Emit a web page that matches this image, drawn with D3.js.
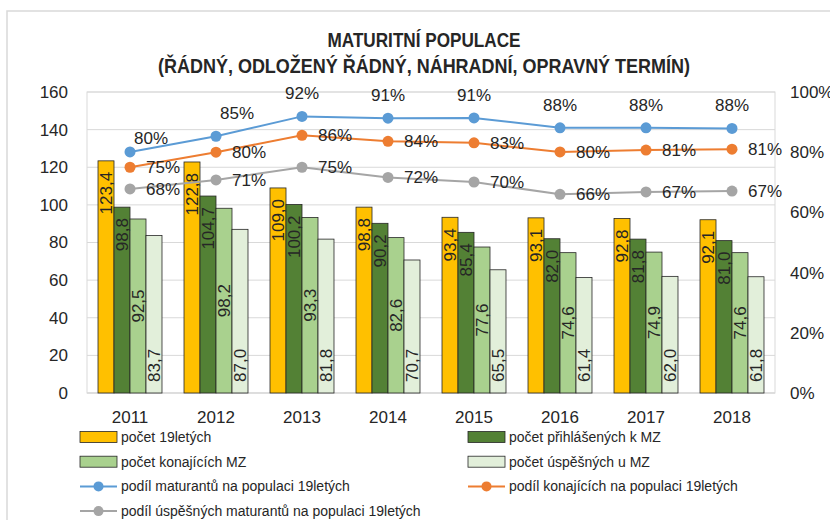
<!DOCTYPE html>
<html>
<head>
<meta charset="utf-8">
<script src="https://cdn.jsdelivr.net/npm/d3@7"></script>
<style>
  body { margin: 0; background: #fff; }
  svg text { font-family: "Liberation Sans", Arial, sans-serif; fill: #262626; }
</style>
</head>
<body>
<svg id="chart" width="830" height="520"></svg>
<script>
// DATA
const years = ["2011", "2012", "2013", "2014", "2015", "2016", "2017", "2018"];
const pocet19 = [123.4, 122.8, 109.0, 98.8, 93.4, 93.1, 92.8, 92.1];
const prihlasenych = [98.8, 104.7, 100.2, 90.2, 85.4, 82.0, 81.8, 81.0];
const konajicich = [92.5, 98.2, 93.3, 82.6, 77.6, 74.6, 74.9, 74.6];
const uspesnych = [83.7, 87.0, 81.8, 70.7, 65.5, 61.4, 62.0, 61.8];
const podilMaturantu = [80.1, 85.3, 91.9, 91.3, 91.4, 88.1, 88.1, 87.9];
const podilKonajicich = [75.0, 80.0, 85.6, 83.6, 83.1, 80.1, 80.7, 81.0];
const podilUspesnych = [67.8, 70.8, 75.0, 71.6, 70.1, 66.0, 66.8, 67.1];
const leftTicks = [0, 20, 40, 60, 80, 100, 120, 140, 160];
const rightTicks = [0, 0.2, 0.4, 0.6, 0.8, 1.0];

const barSeries = [
  { name: "počet 19letých", values: pocet19, color: "#FFC000", pos: "end" },
  { name: "počet přihlášených k MZ", values: prihlasenych, color: "#538135", pos: "end" },
  { name: "počet konajících MZ", values: konajicich, color: "#A9D18E", pos: "center" },
  { name: "počet úspěšných u MZ", values: uspesnych, color: "#E2EFDA", pos: "base" }
];
const lineSeries = [
  { name: "podíl maturantů na populaci 19letých", values: podilMaturantu, color: "#5B9BD5", pos: "above" },
  { name: "podíl konajících na populaci 19letých", values: podilKonajicich, color: "#ED7D31", pos: "right" },
  { name: "podíl úspěšných maturantů na populaci 19letých", values: podilUspesnych, color: "#A5A5A5", pos: "right" }
];

const svg = d3.select("#chart");
const plotL = 87, plotR = 775, plotT = 92, plotB = 393;
const fmt = d3.format(".1f");
const comma = v => fmt(v).replace(".", ",");

svg.append("rect").attr("width", 830).attr("height", 520).attr("fill", "#fff");
// outer chart frame
svg.append("rect")
  .attr("x", 7).attr("y", 11).attr("width", 900).attr("height", 600)
  .attr("fill", "none").attr("stroke", "#d9d9d9").attr("stroke-width", 1.5);

const x0 = d3.scaleBand().domain(years).range([plotL, plotR])
  .paddingInner(0.256).paddingOuter(0.128);
const x1 = d3.scaleBand().domain(d3.range(barSeries.length)).range([0, x0.bandwidth()]);
const y = d3.scaleLinear().domain([0, 160]).range([plotB, plotT]);
const yR = d3.scaleLinear().domain([0, 1]).range([plotB, plotT]);

// grid
svg.append("g").selectAll("line").data(leftTicks).join("line")
  .attr("x1", plotL).attr("x2", plotR)
  .attr("y1", d => y(d)).attr("y2", d => y(d))
  .attr("stroke", "#d9d9d9").attr("stroke-width", 1);
svg.append("rect")
  .attr("x", plotL).attr("y", plotT).attr("width", plotR - plotL).attr("height", plotB - plotT)
  .attr("fill", "none").attr("stroke", "#d9d9d9");

// axes
const yAxis = svg.append("g").attr("transform", `translate(${plotL},0)`)
  .call(d3.axisLeft(y).tickValues(leftTicks).tickSize(0).tickPadding(19));
const yAxisR = svg.append("g").attr("transform", `translate(${plotR},0)`)
  .call(d3.axisRight(yR).tickValues(rightTicks).tickSize(0).tickPadding(15).tickFormat(d3.format(".0%")));
const xAxis = svg.append("g").attr("transform", `translate(0,${plotB})`)
  .call(d3.axisBottom(x0).tickSize(0).tickPadding(18));
[yAxis, yAxisR, xAxis].forEach(g => {
  g.select(".domain").remove();
  g.selectAll("text").style("font-size", "17px").style("font-family", "Liberation Sans, Arial, sans-serif").attr("fill", "#404040");
});
svg.append("line").attr("x1", plotL).attr("x2", plotR).attr("y1", plotB).attr("y2", plotB)
  .attr("stroke", "#d9d9d9");

// bars
const groups = svg.append("g").selectAll("g").data(years).join("g")
  .attr("transform", d => `translate(${x0(d)},0)`);
barSeries.forEach((s, si) => {
  groups.append("rect")
    .attr("x", x1(si)).attr("width", x1.bandwidth())
    .attr("y", (d, i) => y(s.values[i]))
    .attr("height", (d, i) => plotB - y(s.values[i]))
    .attr("fill", s.color).attr("stroke", "#262626").attr("stroke-width", 0.8);
});
barSeries.forEach((s, si) => {
  groups.append("text")
    .attr("transform", (d, i) => {
      const bx = x1(si) + x1.bandwidth() / 2;
      let ty;
      if (s.pos === "end") ty = y(s.values[i]) + 11;
      else if (s.pos === "base") ty = plotB - 11;
      else ty = (y(s.values[i]) + plotB) / 2;
      return `translate(${bx},${ty}) rotate(-90)`;
    })
    .attr("text-anchor", s.pos === "end" ? "end" : s.pos === "base" ? "start" : "middle")
    .attr("dy", "0.35em")
    .style("font-size", "17px")
    .text((d, i) => comma(s.values[i]));
});

// lines
const cx = d => x0(d) + x0.bandwidth() / 2;
lineSeries.forEach(s => {
  const line = d3.line().x((d, i) => cx(years[i])).y(d => yR(d / 100));
  svg.append("path").datum(s.values).attr("d", line)
    .attr("fill", "none").attr("stroke", s.color).attr("stroke-width", 2);
  svg.append("g").selectAll("circle").data(s.values).join("circle")
    .attr("cx", (d, i) => cx(years[i])).attr("cy", d => yR(d / 100)).attr("r", 5.5)
    .attr("fill", s.color);
  svg.append("g").selectAll("text").data(s.values).join("text")
    .attr("x", (d, i) => s.pos === "above" ? cx(years[i]) + (i < 2 ? 21 : 0) : cx(years[i]) + 16)
    .attr("y", (d, i) => s.pos === "above" ? yR(d / 100) - (i === 0 ? 14 : 23) : yR(d / 100))
    .attr("dy", "0.35em")
    .attr("text-anchor", s.pos === "above" ? "middle" : "start")
    .style("font-size", "17px")
    .text(d => Math.round(d) + "%");
});

// title (condensed look, like the original)
const titleLines = [
  { text: "MATURITNÍ POPULACE", y: 47, len: 193 },
  { text: "(ŘÁDNÝ, ODLOŽENÝ ŘÁDNÝ, NÁHRADNÍ, OPRAVNÝ TERMÍN)", y: 73, len: 532 }
];
svg.append("g").selectAll("text").data(titleLines).join("text")
  .attr("x", 424).attr("y", d => d.y)
  .attr("text-anchor", "middle")
  .attr("textLength", d => d.len).attr("lengthAdjust", "spacingAndGlyphs")
  .style("font-weight", "bold").style("font-size", "21px")
  .text(d => d.text);

// legend
const legendItems = barSeries.map(s => ({ name: s.name, color: s.color, type: "bar" }))
  .concat(lineSeries.map(s => ({ name: s.name, color: s.color, type: "line" })));
const legend = svg.append("g").selectAll("g").data(legendItems).join("g")
  .attr("transform", (d, i) => `translate(${i % 2 === 0 ? 80 : 468},${437 + Math.floor(i / 2) * 24.7})`);
legend.filter(d => d.type === "bar").append("rect")
  .attr("x", 0).attr("y", -5.5).attr("width", 37).attr("height", 11)
  .attr("fill", d => d.color).attr("stroke", "#262626").attr("stroke-width", 0.8);
legend.filter(d => d.type === "line").append("line")
  .attr("x1", 0).attr("x2", 37).attr("stroke", d => d.color).attr("stroke-width", 2);
legend.filter(d => d.type === "line").append("circle")
  .attr("cx", 18.5).attr("r", 5).attr("fill", d => d.color);
legend.append("text").attr("x", 41).attr("dy", "0.35em")
  .style("font-size", "14px").text(d => d.name);
</script>
</body>
</html>
